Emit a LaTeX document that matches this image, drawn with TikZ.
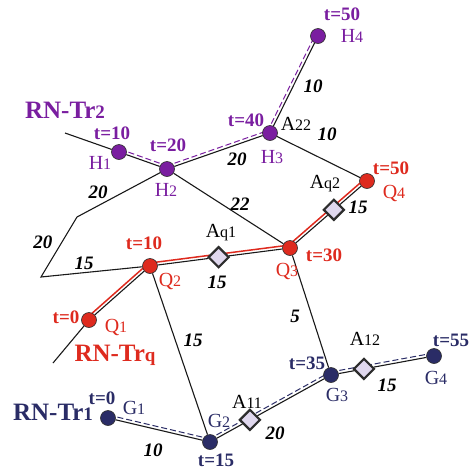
\documentclass[tikz,border=0pt]{standalone}
\usepackage{fontspec}
\setmainfont{Liberation Serif}
\usetikzlibrary{backgrounds,calc,shapes.geometric}
\definecolor{trpurple}{RGB}{122,30,160}
\definecolor{trred}{RGB}{222,42,30}
\definecolor{trnavy}{RGB}{42,44,102}
\definecolor{softlilac}{RGB}{224,216,238}
\definecolor{rimgrey}{RGB}{45,45,45}
\newcommand{\idx}[2][16]{{\fontsize{#1}{#1}\selectfont #2}}
\newcommand{\trail}[3]{\draw[#1] ($(#2.center)!3pt!90:(#3.center)$) -- ($(#3.center)!3pt!-90:(#2.center)$);}
\tikzset{
  road/.style={line width=1.1pt, draw=black!90},
  waypt/.style={circle, draw=rimgrey, line width=0.6pt, minimum size=15pt, inner sep=0pt},
  hpt/.style={waypt, fill=trpurple},
  qpt/.style={waypt, fill=trred},
  gpt/.style={waypt, fill=trnavy},
  anchorpt/.style={diamond, draw=rimgrey, line width=2.2pt, fill=softlilac, minimum size=21pt, inner sep=0pt},
  trailq/.style={draw=trred, line width=1.5pt},
  trailh/.style={draw=trpurple, line width=1pt, dash pattern=on 6pt off 3pt},
  trailg/.style={draw=trnavy, line width=1pt, dash pattern=on 6pt off 3pt},
  tlab/.style={font=\fontsize{19}{19}\selectfont\bfseries, inner sep=0pt},
  wlab/.style={font=\fontsize{19}{19}\selectfont\bfseries\itshape, inner sep=0pt},
  nlab/.style={font=\fontsize{20}{20}\selectfont, inner sep=0pt},
  trname/.style={font=\fontsize{25}{25}\selectfont\bfseries, inner sep=0pt}
}
\begin{document}
\begin{tikzpicture}[x=1pt, y=-1pt]
  \useasboundingbox (0,0) rectangle (470,472);

  % free road ends and bends
  \coordinate (hEnd) at (65,133);
  \coordinate (qEnd) at (53,363);
  \coordinate (bendA) at (77,217);
  \coordinate (bendB) at (41,277);

  % RN-Tr2
  \node[hpt] (H1) at (119,152) {};
  \node[hpt] (H2) at (167,169) {};
  \node[hpt] (H3) at (270,133) {};
  \node[hpt] (H4) at (318,36) {};

  % RN-Trq
  \node[qpt] (Q1) at (89,320) {};
  \node[qpt] (Q2) at (150,266) {};
  \node[qpt] (Q3) at (290,248) {};
  \node[qpt] (Q4) at (367,181) {};
  \node[anchorpt] (Aq1) at ($(Q2)!0.49!(Q3)$) {};
  \node[anchorpt] (Aq2) at ($(Q3)!0.57!(Q4)$) {};

  % RN-Tr1
  \node[gpt] (G1) at (108,418) {};
  \node[gpt] (G2) at (210,442) {};
  \node[gpt] (G3) at (331,375) {};
  \node[gpt] (G4) at (434,356) {};
  \node[anchorpt] (A11) at ($(G2)!0.33!(G3)$) {};
  \node[anchorpt] (A12) at ($(G3)!0.32!(G4)$) {};

  \begin{scope}[on background layer]
    \draw[road] (hEnd) -- (H1) -- (H2) -- (H3) -- (H4);
    \draw[road] (H3) -- (Q4);
    \draw[road] (H2) -- (Q3);
    \draw[road] (H2) -- (bendA) -- (bendB) -- (Q2);
    \draw[road] (qEnd) -- (Q1) -- (Q2) -- (Aq1) -- (Q3) -- (Aq2) -- (Q4);
    \draw[road] (Q2) -- (G2);
    \draw[road] (Q3) -- (G3);
    \draw[road] (G1) -- (G2) -- (A11) -- (G3) -- (A12) -- (G4);

    \trail{trailq}{Q1}{Q2}
    \trail{trailq}{Q2}{Q3}
    \trail{trailq}{Q3}{Q4}
    \trail{trailh}{H1}{H2}
    \trail{trailh}{H2}{H3}
    \trail{trailh}{H3}{H4}
    \trail{trailg}{G1}{G2}
    \trail{trailg}{G2}{G3}
    \trail{trailg}{G3}{G4}
  \end{scope}

  % labels RN-Tr2
  \node[trname, text=trpurple] (nameTr2) at (65,110) {RN-Tr\idx[19]{2}};
  \node[tlab, text=trpurple] (tH1) at (112,133) {t=10};
  \node[nlab, text=trpurple] (nH1) at (100,163) {H\idx{1}};
  \node[tlab, text=trpurple] (tH2) at (168,145) {t=20};
  \node[nlab, text=trpurple] (nH2) at (166,190) {H\idx{2}};
  \node[tlab, text=trpurple] (tH3) at (246,120) {t=40};
  \node[nlab, text=trpurple] (nH3) at (272,157) {H\idx{3}};
  \node[nlab] (nA22) at (296,124) {A\idx{22}};
  \node[tlab, text=trpurple] (tH4) at (342,14) {t=50};
  \node[nlab, text=trpurple] (nH4) at (352,36) {H\idx{4}};

  % labels RN-Trq
  \node[trname, text=trred] (nameTrq) at (115,355) {RN-Tr\idx[19]{q}};
  \node[tlab, text=trred] (tQ1) at (66,317) {t=0};
  \node[nlab, text=trred] (nQ1) at (116,327) {Q\idx{1}};
  \node[tlab, text=trred] (tQ2) at (144,243) {t=10};
  \node[nlab, text=trred] (nQ2) at (170,281) {Q\idx{2}};
  \node[nlab] (nAq1) at (221,233) {A\idx{q1}};
  \node[tlab, text=trred] (tQ3) at (324,255) {t=30};
  \node[nlab, text=trred] (nQ3) at (287,271) {Q\idx{3}};
  \node[nlab] (nAq2) at (325,184) {A\idx{q2}};
  \node[tlab, text=trred] (tQ4) at (391,168) {t=50};
  \node[nlab, text=trred] (nQ4) at (394,193) {Q\idx{4}};

  % labels RN-Tr1
  \node[trname, text=trnavy] (nameTr1) at (53,412) {RN-Tr\idx[19]{1}};
  \node[tlab, text=trnavy] (tG1) at (102,398) {t=0};
  \node[nlab, text=trnavy] (nG1) at (134,408) {G\idx{1}};
  \node[nlab, text=trnavy] (nG2) at (219,421) {G\idx{2}};
  \node[tlab, text=trnavy] (tG2) at (216,460) {t=15};
  \node[nlab] (nA11) at (247,402) {A\idx{11}};
  \node[tlab, text=trnavy] (tG3) at (307,363) {t=35};
  \node[nlab, text=trnavy] (nG3) at (337,395) {G\idx{3}};
  \node[nlab] (nA12) at (365,339) {A\idx{12}};
  \node[tlab, text=trnavy] (tG4) at (451,340) {t=55};
  \node[nlab, text=trnavy] (nG4) at (436,378) {G\idx{4}};

  % road weights
  \node[wlab] (wH3H4) at (313,86) {10};
  \node[wlab] (wH3Q4) at (327,134) {10};
  \node[wlab] (wH2H3) at (237,159) {20};
  \node[wlab] (wH2A) at (98,192) {20};
  \node[wlab] (wH2Q3) at (240,204) {22};
  \node[wlab] (wAB) at (43,242) {20};
  \node[wlab] (wBQ2) at (84,263) {15};
  \node[wlab] (wQ2Q3) at (217,282) {15};
  \node[wlab] (wQ3Q4) at (358,207) {15};
  \node[wlab] (wQ3G3) at (295,316) {5};
  \node[wlab] (wQ2G2) at (193,340) {15};
  \node[wlab] (wG1G2) at (153,450) {10};
  \node[wlab] (wG2G3) at (275,433) {20};
  \node[wlab] (wG3G4) at (387,385) {15};
\end{tikzpicture}
\end{document}
